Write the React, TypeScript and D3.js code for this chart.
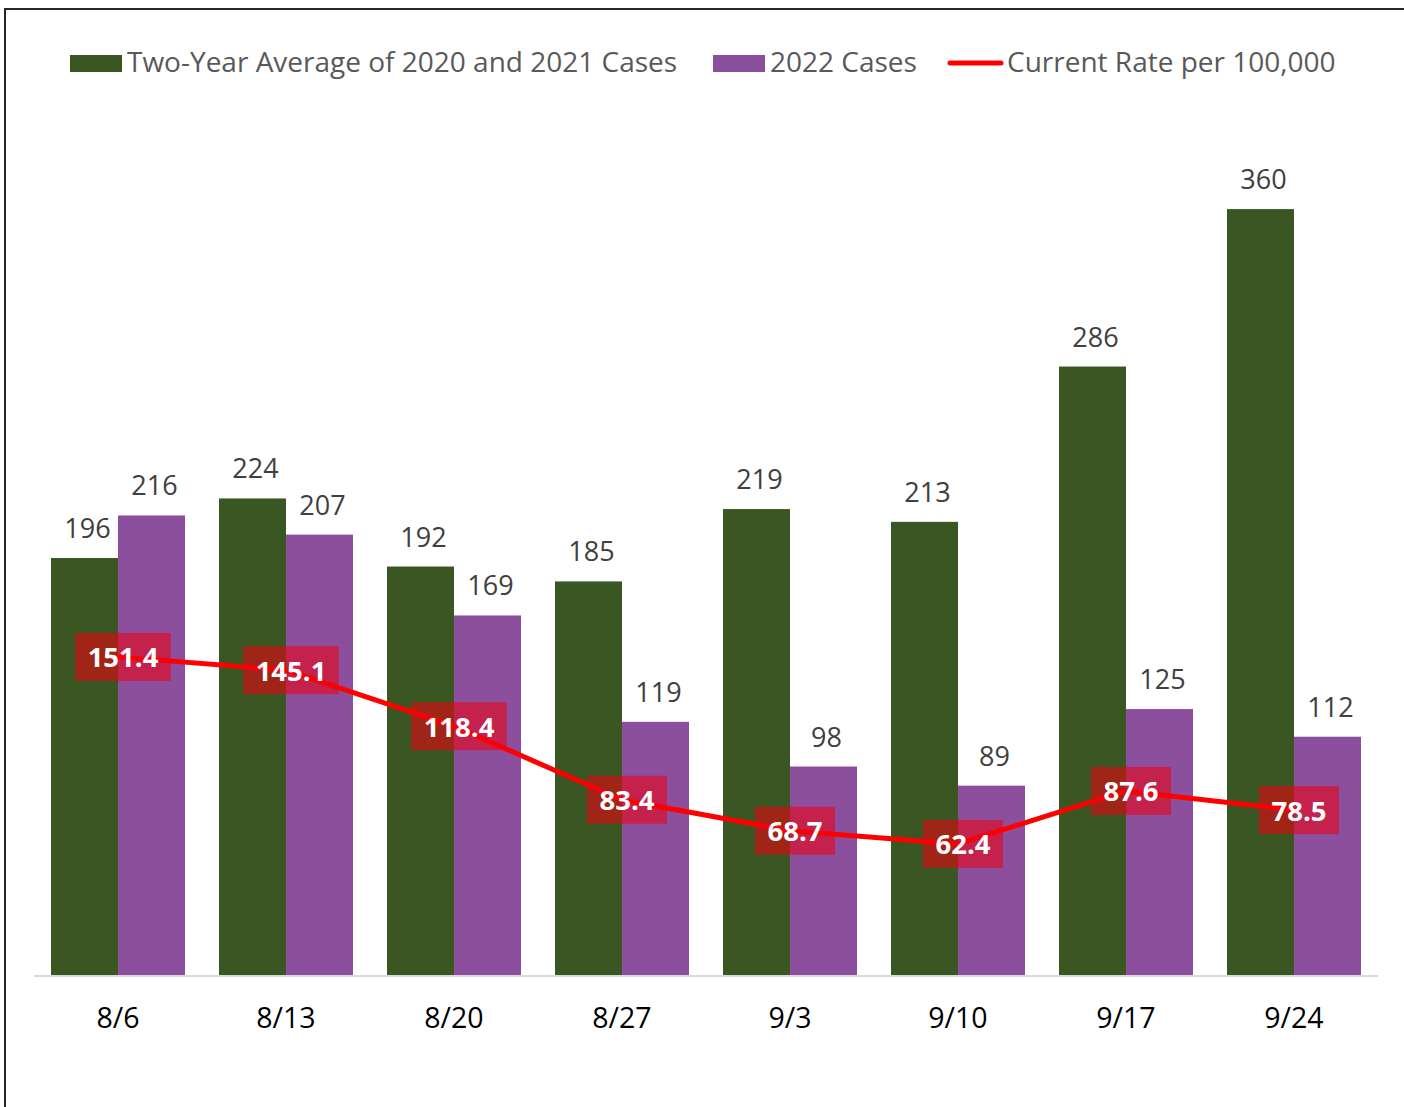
import { useRef, useEffect } from 'react';
import * as d3 from 'd3';

const weeks = ['8/6', '8/13', '8/20', '8/27', '9/3', '9/10', '9/17', '9/24'];
const twoYearAvg = [196, 224, 192, 185, 219, 213, 286, 360];
const cases2022 = [216, 207, 169, 119, 98, 89, 125, 112];
const ratePer100k = [151.4, 145.1, 118.4, 83.4, 68.7, 62.4, 87.6, 78.5];

const seriesNames = ['Two-Year Average of 2020 and 2021 Cases', '2022 Cases', 'Current Rate per 100,000'];

const WIDTH = 1404;
const HEIGHT = 1107;
const GREEN = '#3a5623';
const PURPLE = '#8c4f9e';
const RED = '#ff0000';
const FONT = '"Open Sans", "Noto Sans", sans-serif';

export default function App() {
  const svgRef = useRef<SVGSVGElement>(null);

  useEffect(() => {
    if (!svgRef.current) return;
    const svg = d3.select(svgRef.current);
    svg.selectAll('*').remove();

    const plot = { left: 34, right: 1378, top: 124, bottom: 975 };

    // frame (right/bottom edges run off the picture)
    svg.append('rect')
      .attr('x', 5).attr('y', 9)
      .attr('width', WIDTH + 20).attr('height', HEIGHT + 20)
      .attr('fill', '#fff')
      .attr('stroke', '#262626')
      .attr('stroke-width', 2);

    const x0 = d3.scaleBand<string>()
      .domain(weeks)
      .range([plot.left, plot.right])
      .paddingInner(34 / 168)
      .paddingOuter(17 / 168);

    const x1 = d3.scaleBand<string>()
      .domain(['avg', 'cur'])
      .range([0, x0.bandwidth()]);

    const y = d3.scaleLinear().domain([0, 400]).range([plot.bottom, plot.top]);
    const y2 = d3.scaleLinear().domain([0, 405]).range([plot.bottom, plot.top]);

    const rows = weeks.map((w, i) => ({
      week: w,
      avg: twoYearAvg[i],
      cur: cases2022[i],
      rate: ratePer100k[i],
    }));

    // Bars
    const groups = svg.append('g')
      .selectAll('g')
      .data(rows)
      .join('g')
      .attr('transform', (d) => `translate(${x0(d.week)},0)`);

    const barData = (d: typeof rows[number]) => [
      { key: 'avg', value: d.avg, color: GREEN },
      { key: 'cur', value: d.cur, color: PURPLE },
    ];

    groups.selectAll('rect')
      .data(barData)
      .join('rect')
      .attr('x', (b) => x1(b.key)!)
      .attr('y', (b) => y(b.value))
      .attr('width', x1.bandwidth())
      .attr('height', (b) => y(0) - y(b.value))
      .attr('fill', (b) => b.color);

    groups.selectAll('text.val')
      .data(barData)
      .join('text')
      .attr('class', 'val')
      .attr('x', (b) => x1(b.key)! + x1.bandwidth() / 2 + 3)
      .attr('y', (b) => y(b.value) - 20)
      .attr('text-anchor', 'middle')
      .attr('font-family', FONT)
      .attr('font-size', '27px')
      .attr('fill', '#404040')
      .text((b) => b.value);

    // Axis baseline
    svg.append('line')
      .attr('x1', plot.left).attr('x2', plot.right)
      .attr('y1', plot.bottom + 1).attr('y2', plot.bottom + 1)
      .attr('stroke', '#d9d9d9')
      .attr('stroke-width', 2);

    // Category labels
    svg.append('g')
      .selectAll('text')
      .data(weeks)
      .join('text')
      .attr('x', (w) => x0(w)! + x0.bandwidth() / 2)
      .attr('y', 1028)
      .attr('text-anchor', 'middle')
      .attr('font-family', FONT)
      .attr('font-size', '28.5px')
      .attr('fill', '#000')
      .text((w) => w);

    // Rate line
    const cx = (w: string) => x0(w)! + x0.bandwidth() / 2;
    const line = d3.line<typeof rows[number]>()
      .x((d) => cx(d.week))
      .y((d) => y2(d.rate));

    svg.append('path')
      .datum(rows)
      .attr('d', line)
      .attr('fill', 'none')
      .attr('stroke', RED)
      .attr('stroke-width', 5)
      .attr('stroke-linejoin', 'round')
      .attr('stroke-linecap', 'round');

    // Rate labels with boxes
    const labels = svg.append('g')
      .selectAll('g')
      .data(rows)
      .join('g')
      .attr('transform', (d) => `translate(${cx(d.week) + 5},${y2(d.rate)})`);

    const boxes = labels.append('rect')
      .attr('fill', 'rgb(240,0,12)')
      .attr('fill-opacity', 0.56);

    const texts = labels.append('text')
      .attr('text-anchor', 'middle')
      .attr('dominant-baseline', 'central')
      .attr('font-family', FONT)
      .attr('font-size', '27.5px')
      .attr('font-weight', 'bold')
      .attr('fill', '#fff')
      .text((d) => d.rate.toFixed(1));

    texts.each(function (_, i) {
      const w = (this as SVGTextElement).getComputedTextLength();
      const bw = w + 25;
      d3.select(boxes.nodes()[i])
        .attr('x', -bw / 2)
        .attr('y', -24)
        .attr('width', bw)
        .attr('height', 48);
    });

    // Legend
    const legend = svg.append('g');
    const legendX = [70, 713, 948];
    seriesNames.forEach((name, i) => {
      const lx = legendX[i];
      if (i < 2) {
        legend.append('rect')
          .attr('x', lx).attr('y', 55)
          .attr('width', 52).attr('height', 17)
          .attr('fill', i === 0 ? GREEN : PURPLE);
      } else {
        legend.append('line')
          .attr('x1', lx + 2).attr('x2', lx + 53)
          .attr('y1', 63).attr('y2', 63)
          .attr('stroke', RED)
          .attr('stroke-width', 5)
          .attr('stroke-linecap', 'round');
      }
      legend.append('text')
        .attr('x', lx + (i < 2 ? 57 : 59))
        .attr('y', 72)
        .attr('font-family', FONT)
        .attr('font-size', '28px')
        .attr('fill', '#595959')
        .text(name);
    });
  }, []);

  return (
    <svg
      ref={svgRef}
      width={WIDTH}
      height={HEIGHT}
      style={{ position: 'absolute', left: 0, top: 0, display: 'block', background: '#fff' }}
    />
  );
}
